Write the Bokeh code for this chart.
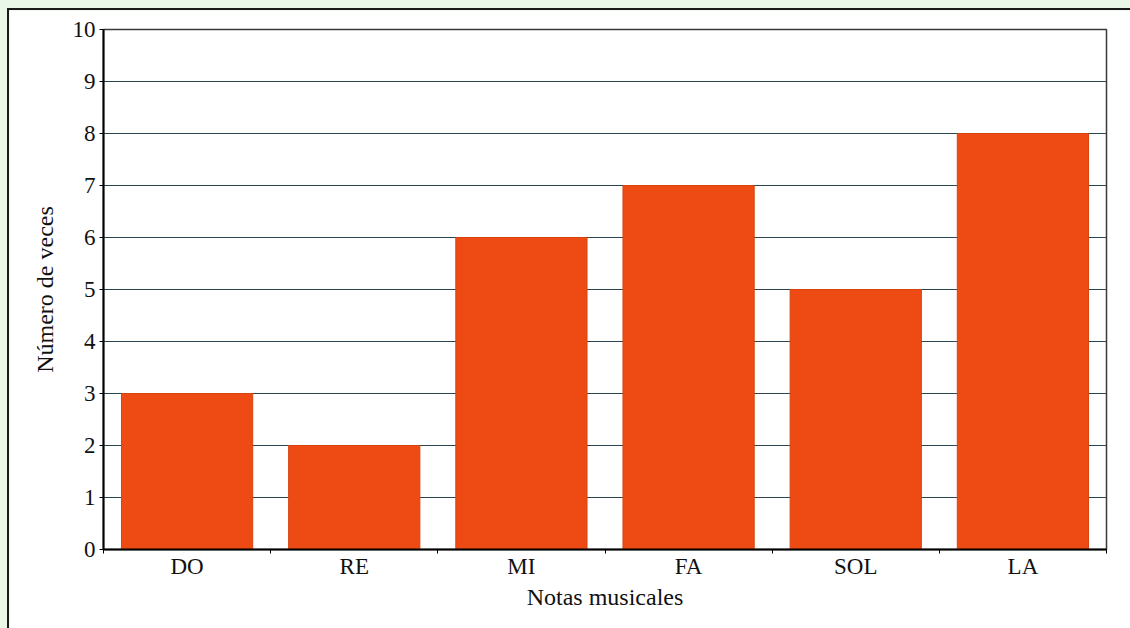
from bokeh.plotting import figure
from bokeh.models import FixedTicker, Range1d
from bokeh.embed import file_html
from bokeh.resources import INLINE

notes = ["DO", "RE", "MI", "FA", "SOL", "LA"]
counts = [3, 2, 6, 7, 5, 8]
y_ticks = list(range(0, 11))

FONT = "Liberation Serif"
xs = [i + 0.5 for i in range(len(notes))]

p = figure(width=1125, height=625, output_backend="svg", toolbar_location=None,
           x_range=Range1d(0, len(notes)), y_range=Range1d(0, 10),
           min_border_left=94, min_border_top=19, min_border_right=28, min_border_bottom=86)
p.styles = {"border-left": "2px solid #1a1a1a", "border-top": "2px solid #1a1a1a",
            "margin-left": "7px", "margin-top": "8px"}
p.background_fill_color = "white"
p.border_fill_color = "white"
p.outline_line_color = "#3a3a3a"
p.outline_line_width = 1.5

p.vbar(x=xs, top=counts, width=0.785, bottom=0, fill_color="#EE4B14",
       line_color="#d8440f", line_width=1)

# x axis
p.xaxis.ticker = FixedTicker(ticks=xs, minor_ticks=list(range(0, len(notes) + 1)))
p.xaxis.major_label_overrides = {x: n for x, n in zip(xs, notes)}
p.xaxis.major_tick_line_color = None
p.xaxis.major_tick_out = 0
p.xaxis.major_tick_in = 0
p.xaxis.minor_tick_line_color = "black"
p.xaxis.minor_tick_out = 4
p.xaxis.minor_tick_in = 0
p.xaxis.axis_label = "Notas musicales"
p.xaxis.major_label_standoff = 0
p.xaxis.axis_label_standoff = 2

# y axis
p.yaxis.ticker = FixedTicker(ticks=y_ticks)
p.yaxis.minor_tick_line_color = None
p.yaxis.major_tick_out = 4
p.yaxis.major_tick_in = 0
p.yaxis.major_tick_line_color = "black"
p.yaxis.axis_label = "Número de veces"
p.yaxis.major_label_standoff = 4
p.yaxis.axis_label_standoff = 12

for ax in (p.xaxis, p.yaxis):
    ax.axis_line_color = "black"
    ax.axis_line_width = 2
    ax.major_label_text_font = FONT
    ax.major_label_text_font_size = "23px"
    ax.major_label_text_color = "#111111"
    ax.axis_label_text_font = FONT
    ax.axis_label_text_font_size = "24px"
    ax.axis_label_text_font_style = "normal"
    ax.axis_label_text_color = "#111111"

p.xgrid.grid_line_color = None
p.ygrid.ticker = FixedTicker(ticks=y_ticks)
p.ygrid.grid_line_color = "#2a4450"
p.ygrid.grid_line_width = 1

html = file_html(p, INLINE)
html = html.replace("</head>", "<style>html, body { background: #e9f7e9 !important; overflow: hidden !important; }</style></head>", 1)
open("out.html", "w").write(html)
